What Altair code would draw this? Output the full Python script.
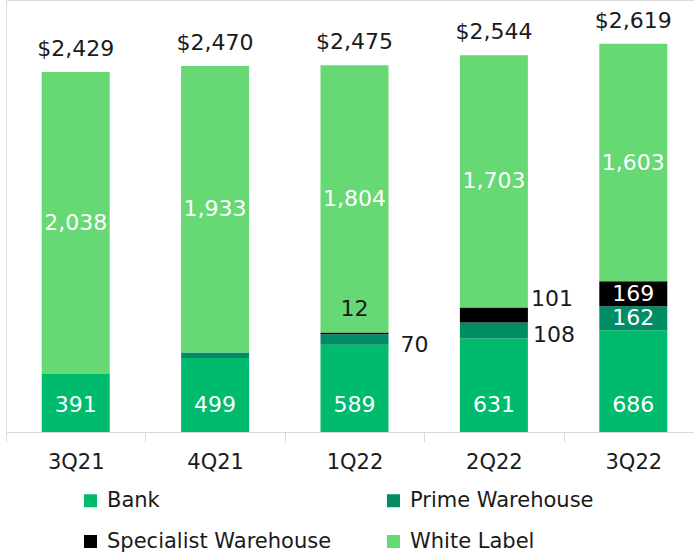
import altair as alt
import pandas as pd

quarters = ["3Q21", "4Q21", "1Q22", "2Q22", "3Q22"]
series = ["Bank", "Prime Warehouse", "Specialist Warehouse", "White Label"]
bank = [391, 499, 589, 631, 686]
prime = [0, 38, 70, 108, 162]
specialist = [0, 0, 12, 101, 169]
white_label = [2038, 1933, 1804, 1703, 1603]
totals = [2429, 2470, 2475, 2544, 2619]
colors = ["#00BA6E", "#008C64", "#000000", "#66D874"]

rows = []
for i, q in enumerate(quarters):
    for k, (name, vals) in enumerate(zip(series, [bank, prime, specialist, white_label])):
        rows.append({"quarter": q, "series": name, "order": k, "value": vals[i]})
df = pd.DataFrame(rows)
tot = pd.DataFrame({"quarter": quarters, "total": totals})

FONT = "DejaVu Sans"
xscale = alt.Scale(domain=quarters, range=[0, 697], paddingInner=0, paddingOuter=0)
yscale = alt.Scale(domain=[0, 2915], nice=False, zero=True)

x = alt.X("quarter:N", sort=quarters, scale=xscale, title=None,
          axis=alt.Axis(labelAngle=0, tickBand="extent", tickSize=10, labelPadding=9,
                        domainColor="#d9d9d9", tickColor="#d9d9d9", labelFontSize=21,
                        labelFont=FONT, labelColor="#1a1a1a", grid=False))

base = alt.Chart(df).transform_stack(
    stack="value", groupby=["quarter"], as_=["y0", "y1"],
    sort=[alt.SortField("order", order="ascending")]
).transform_calculate(mid="(datum.y0 + datum.y1) / 2")

bars = base.mark_bar(width=68).encode(
    x=x,
    y=alt.Y("y0:Q", scale=yscale, axis=None),
    y2="y1:Q",
    color=alt.Color("series:N", scale=alt.Scale(domain=series, range=colors),
                    legend=alt.Legend(title=None, orient="none", legendX=74, legendY=490,
                                      direction="horizontal",
                                      columns=2, symbolType="square", symbolSize=169,
                                      symbolStrokeWidth=0, labelFontSize=21, labelFont=FONT,
                                      labelColor="#1a1a1a", labelLimit=0, labelOffset=6,
                                      columnPadding=51, rowPadding=19, padding=0)),
)

def txt(**kw):
    return dict(font=FONT, fontSize=22, baseline="middle", align="center", **kw)

wl_text = base.transform_filter("datum.series == 'White Label'").mark_text(**txt(color="white")).encode(
    x=x, y=alt.Y("mid:Q", scale=yscale), text=alt.Text("value:Q", format=","))

bank_text = base.transform_filter("datum.series == 'Bank'").mark_text(**txt(color="white", dy=-27)).encode(
    x=x, y=alt.datum(0), text=alt.Text("value:Q", format=","))

inside = base.transform_filter(
    "datum.quarter == '3Q22' && (datum.series == 'Prime Warehouse' || datum.series == 'Specialist Warehouse')"
).mark_text(**txt(color="white")).encode(x=x, y=alt.Y("mid:Q", scale=yscale), text=alt.Text("value:Q", format=","))

prime_out = base.transform_filter(
    "(datum.quarter == '1Q22' || datum.quarter == '2Q22') && datum.series == 'Prime Warehouse'"
).mark_text(**txt(color="#1a1a1a", dx=60, dy=5)).encode(x=x, y=alt.Y("mid:Q", scale=yscale), text=alt.Text("value:Q", format=","))

spec_out = base.transform_filter(
    "datum.quarter == '2Q22' && datum.series == 'Specialist Warehouse'"
).mark_text(**txt(color="#1a1a1a", dx=58, dy=-16)).encode(x=x, y=alt.Y("mid:Q", scale=yscale), text=alt.Text("value:Q", format=","))

spec_top = base.transform_filter(
    "datum.quarter == '1Q22' && datum.series == 'Specialist Warehouse'"
).mark_text(**txt(color="#1a1a1a", dy=-24)).encode(x=x, y=alt.Y("mid:Q", scale=yscale), text=alt.Text("value:Q", format=","))

total_text = alt.Chart(tot).mark_text(font=FONT, fontSize=22, baseline="alphabetic", align="center",
                                      color="#1a1a1a", dy=-16).encode(
    x=x, y=alt.Y("total:Q", scale=yscale), text=alt.Text("total:Q", format="$,"))

chart = alt.layer(bars, wl_text, bank_text, inside, prime_out, spec_out, spec_top, total_text).properties(
    width=688, height=432,
    autosize=alt.AutoSizeParams(type="none"),
    padding={"left": 6, "top": 0, "right": 0, "bottom": 123},
).configure_view(stroke=None).configure(background="white")

chart.save("out.html", embed_options={"renderer": "svg", "actions": False})
